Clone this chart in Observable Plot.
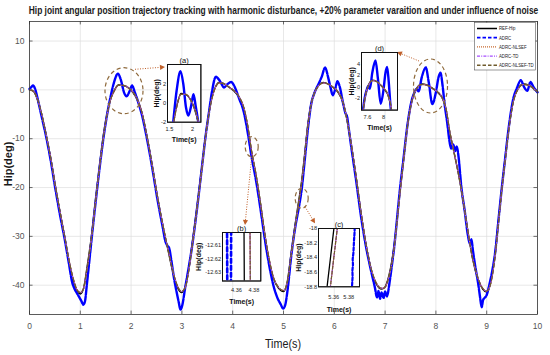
<!DOCTYPE html>
<html><head><meta charset="utf-8">
<script src="https://cdn.jsdelivr.net/npm/d3@7"></script>
<script src="https://cdn.jsdelivr.net/npm/@observablehq/plot@0.6"></script>
<style>
html,body{margin:0;padding:0;background:#fff;}
#wrap{position:relative;width:550px;height:355px;overflow:hidden;background:#fff;}
</style></head><body><div id="wrap"></div>
<script>
// ---------------- DATA ----------------
const titleText = "Hip joint angular position trajectory tracking with harmonic disturbance, +20% parameter varaition and under influence of noise";
const xTicks = [0,1,2,3,4,5,6,7,8,9,10];
const yTicks = [-40,-30,-20,-10,0,10];
const legendLabels = ["REF-Hip","ADRC","ADRC-NLSEF","ADRC-TD","ADRC-NLSEF-TD"];

const refT = [0,0.08,0.15,0.22,0.33,0.42,0.51,0.60,0.69,0.78, 0.87,0.94,1.00,1.06,1.13,1.23,1.31,1.39,1.47,1.54,
  1.60,1.67,1.75,1.85,1.95,2.04,2.12,2.21,2.32,2.42, 2.52,2.62,2.72,2.85,2.93,2.99,3.06,3.13,3.19,3.29,
  3.39,3.47,3.53,3.60,3.66,3.73,3.82,3.92,4.02,4.12, 4.22,4.30,4.37,4.46,4.55,4.63,4.72,4.80,4.90,5.00,
  5.07,5.15,5.23,5.31,5.36,5.41,5.48,5.54,5.61,5.68, 5.78,5.88,5.98,6.08,6.17,6.25,6.33,6.43,6.53,6.62,
  6.72,6.82,6.92,6.98,7.05,7.17,7.30,7.37,7.43,7.53, 7.62,7.72,7.82,7.92,8.02,8.12,8.20,8.27,8.35,8.43,
  8.50,8.57,8.63,8.72,8.83,8.92,9.00,9.07,9.17,9.23, 9.30,9.37,9.43,9.53,9.62,9.72,9.82,9.92,10.0];
const refV = [0.0,-0.3,-1.8,-4.2,-9.4,-14.2,-19.8,-25.0,-30.0,-35.2, -39.3,-41.2,-41.8,-40.8,-36.5,-29.0,-21.5,-14.5,-8.2,-4.2,
  -1.8,-0.1,1.0,0.9,0.4,-0.6,-2.0,-4.6,-10.0,-15.8, -22.0,-27.5,-32.5,-38.5,-40.8,-41.5,-40.5,-37.0,-32.5,-24.5,
  -16.0,-9.0,-4.8,-1.2,0.6,1.5,1.3,0.6,-0.2,-1.4, -3.8,-7.8,-12.6,-17.5,-23.5,-29.5,-35.0,-38.5,-40.6,-41.3,
  -39.5,-33.5,-27.5,-22.0,-18.4,-13.8,-7.0,-3.0,-0.5,0.8, 1.5,1.2,0.5,-0.6,-2.6,-6.2,-11.0,-18.0,-25.5,-31.5,
  -36.6,-39.6,-40.8,-40.6,-39.0,-32.5,-20.0,-13.5,-8.0,-2.0, 0.3,1.2,1.0,0.4,-0.4,-1.6,-4.0,-8.5,-12.5,-16.5,
  -20.5,-25.0,-29.0,-34.5,-38.8,-40.8,-41.4,-39.8,-33.2,-27.0, -19.8,-13.5,-8.2,-2.0,0.3,1.2,1.0,0.3,-0.5];
// improved controllers (ADRC-NLSEF, ADRC-TD, ADRC-NLSEF-TD) track the reference closely; sampled on refT
const improvedV = [0.0,-0.3,-1.7,-4.1,-9.3,-14.1,-19.7,-24.9,-29.9,-35.0, -39.0,-41.0,-41.5,-40.8,-36.8,-29.4,-21.9,-14.9,-8.5,-4.4,
  -1.9,-0.2,0.9,0.9,0.4,-0.5,-1.9,-4.5,-9.9,-15.7, -21.9,-27.4,-32.3,-38.2,-40.5,-41.3,-40.6,-37.3,-32.9,-24.9,
  -16.4,-9.3,-5.0,-1.4,0.5,1.4,1.3,0.6,-0.1,-1.3, -3.7,-7.6,-12.4,-17.4,-23.4,-29.3,-34.8,-38.3,-40.4,-41.1,
  -39.7,-33.8,-27.9,-22.4,-18.8,-14.2,-7.3,-3.2,-0.6,0.7, 1.4,1.2,0.5,-0.5,-2.5,-6.1,-10.9,-17.8,-25.3,-31.3,
  -36.4,-39.4,-40.6,-40.6,-39.2,-32.9,-20.4,-13.9,-8.3,-2.2, 0.2,1.1,1.0,0.4,-0.3,-1.5,-3.9,-8.4,-12.4,-16.4,
  -20.4,-24.9,-28.9,-34.3,-38.6,-40.6,-41.2,-40.0,-33.6,-27.4, -20.2,-13.9,-8.5,-2.2,0.2,1.1,1.0,0.3,-0.4];

const adrcT = [0.00,0.04,0.07,0.11,0.16,0.22,0.33,0.42,0.51,0.60, 0.69,0.78,0.84,0.88,0.92,0.97,1.02,1.06,1.09,1.13,
  1.18,1.23,1.31,1.39,1.47,1.53,1.58,1.66,1.74,1.80, 1.86,1.91,1.97,2.02,2.07,2.13,2.21,2.32,2.42,2.52,
  2.62,2.68,2.72,2.75,2.79,2.85,2.90,2.94,2.97,3.01, 3.06,3.13,3.19,3.29,3.39,3.47,3.53,3.59,3.67,3.75,
  3.83,3.90,3.97,4.04,4.12,4.22,4.30,4.37,4.46,4.55, 4.63,4.72,4.80,4.88,4.95,4.99,5.03,5.08,5.15,5.23,
  5.31,5.36,5.41,5.48,5.54,5.61,5.68,5.75,5.82,5.88, 5.93,5.97,6.02,6.06,6.11,6.17,6.22,6.25,6.28,6.33,
  6.43,6.53,6.62,6.72,6.80,6.84,6.87,6.90,6.93,6.97, 7.00,7.04,7.08,7.13,7.17,7.30,7.37,7.43,7.53,7.58,
  7.62,7.66,7.72,7.80,7.86,7.93,8.00,8.05,8.09,8.13, 8.17,8.22,8.27,8.30,8.34,8.38,8.41,8.44,8.50,8.57,
  8.63,8.67,8.70,8.73,8.78,8.83,8.87,8.90,8.93,8.96, 9.00,9.05,9.10,9.17,9.23,9.30,9.37,9.43,9.53,9.60,
  9.67,9.74,9.80,9.86,9.92,10.0];
const adrcV = [0.2,0.6,0.9,0.2,-1.8,-4.6,-9.7,-14.6,-20.3,-25.6, -30.4,-35.8,-39.4,-40.6,-41.4,-42.3,-43.2,-44.0,-43.4,-39.8,
  -34.8,-29.8,-22.2,-15.1,-8.8,-4.9,-2.2,1.4,3.3,2.0, -0.5,-1.3,-0.3,0.9,-0.4,-2.2,-5.0,-10.4,-16.2,-22.5,
  -28.0,-31.2,-32.0,-32.4,-34.8,-38.9,-41.6,-43.6,-45.0,-44.0, -40.8,-36.6,-32.8,-25.0,-16.2,-9.2,-4.8,-0.5,2.7,1.8,
  0.5,1.2,1.6,0.6,-1.6,-4.6,-9.0,-13.6,-18.6,-24.6, -30.4,-36.0,-40.0,-42.6,-44.0,-44.8,-44.2,-41.0,-34.2,-28.2,
  -23.6,-20.2,-15.2,-8.0,-3.2,-0.6,1.0,2.6,4.6,2.5, 0.3,-1.1,0.2,1.8,0.5,-2.6,-4.8,-5.4,-7.6,-11.4,
  -18.6,-26.2,-31.9,-36.9,-40.5,-42.5,-41.2,-42.8,-41.5,-42.6, -41.3,-42.3,-40.0,-36.2,-33.0,-19.6,-13.4,-8.0,-1.9,-0.5,
  0.2,-0.3,2.5,4.6,1.5,-2.9,-0.5,2.5,3.5,1.0, -2.8,-6.5,-10.7,-12.0,-11.2,-12.5,-11.6,-13.2,-19.8,-25.0,
  -29.8,-31.6,-30.6,-33.0,-36.5,-39.5,-42.5,-44.5,-43.0,-42.6, -42.0,-40.0,-37.6,-33.0,-26.8,-19.8,-13.4,-8.0,-1.5,0.5,
  2.0,0.5,-0.2,1.6,0.6,-0.5];

// close-up samples for inset (b) around t = 4.37 s
const bRefT = [4.3687,4.3691], bRefV = [-12.595,-12.642];
const bImpT = [4.3756,4.3760], bImpV = [-12.595,-12.642];
const bAdrcT = [4.3492,4.3495,4.3516,4.3537,4.3540], bAdrcV = [-12.59,-12.645,-12.70,-12.645,-12.59];
// close-up samples for inset (c) around t = 5.36 s
const cRefT = [5.3507,5.3605], cRefV = [-18.83,-17.97];
const cImpT = [5.3551,5.3650], cImpV = [-18.83,-17.97];
const cAdrcT = [5.3841,5.3846,5.3851,5.3848,5.3856,5.3852,5.3861,5.3866,5.3870,5.3876,5.3880];
const cAdrcV = [-18.85,-18.74,-18.66,-18.58,-18.50,-18.42,-18.34,-18.25,-18.16,-18.07,-17.97];

// annotation anchors (data coordinates of the main chart)
const ellipseT = [1.87,4.384,5.368,7.904];
const ellipseV = [-0.27,-11.74,-22.31,0.69];
const arrowFrom = [[2.087,4.11],[4.384,-13.79],[5.433,-24.03],[7.677,5.81]];
const arrowTo = [[2.677,4.58],[4.252,-27.78],[5.630,-27.43],[7.244,7.65]];

// ---------------- STYLE ----------------
const FONT = '"Liberation Sans","Arial",sans-serif';
const C = {ref:"#000000", adrc:"#0000ff", nlsef:"#c8692f", td:"#a64dff", nlsefTd:"#6f5b2c", ellipse:"#8f6a3c", arrow:"#c0602a"};
const ellipseR = [[19,23],[6.5,10],[6.5,10],[17,27]];
const yDom = [-46,14], xDom = [0,10];

const wrap = document.getElementById("wrap");

function annotations(index, scales) {
  const {x, y} = scales;
  const g = d3.create("svg:g");
  ellipseT.forEach((t,i) => {
    g.append("ellipse").attr("cx", x(t)).attr("cy", y(ellipseV[i]))
      .attr("rx", ellipseR[i][0]).attr("ry", ellipseR[i][1])
      .attr("fill","none").attr("stroke",C.ellipse).attr("stroke-width",1.2).attr("stroke-dasharray","4,3");
  });
  arrowFrom.forEach((f,i) => {
    const x1 = x(f[0]), y1 = y(f[1]), x2 = x(arrowTo[i][0]), y2 = y(arrowTo[i][1]);
    const a = Math.atan2(y2-y1, x2-x1), L = 5, W = 2.6;
    const bx = x2 - L*Math.cos(a), by = y2 - L*Math.sin(a);
    g.append("line").attr("x1",x1).attr("y1",y1).attr("x2",bx).attr("y2",by)
      .attr("stroke",C.arrow).attr("stroke-width",1).attr("stroke-dasharray","1,1.5");
    g.append("path").attr("d",`M${x2},${y2}L${bx - W*Math.sin(a)},${by + W*Math.cos(a)}L${bx + W*Math.sin(a)},${by - W*Math.cos(a)}Z`)
      .attr("fill",C.arrow);
  });
  return g.node();
}

const main = Plot.plot({
  width: 550, height: 355, marginLeft: 29, marginRight: 13, marginTop: 21, marginBottom: 41,
  style: {fontFamily: FONT, fontSize: "8.5px", color: "#555", background: "transparent"},
  x: {domain: xDom, ticks: xTicks, tickFormat: d => String(d), tickSize: 0, tickPadding: 8, label: null},
  y: {domain: yDom, ticks: yTicks, tickFormat: d => String(d), tickSize: 0, tickPadding: 5, label: null},
  marks: [
    Plot.ruleX(xTicks, {stroke: "#dedede", strokeWidth: 0.7}),
    Plot.ruleY(yTicks, {stroke: "#dedede", strokeWidth: 0.7}),
    Plot.ruleX(xTicks, {y1: yDom[0], y2: yDom[0] + 0.7, stroke: "#333", strokeWidth: 0.7}),
    Plot.ruleX(xTicks, {y1: yDom[1], y2: yDom[1] - 0.7, stroke: "#333", strokeWidth: 0.7}),
    Plot.ruleY(yTicks, {x1: xDom[0], x2: xDom[0] + 0.07, stroke: "#333", strokeWidth: 0.7}),
    Plot.ruleY(yTicks, {x1: xDom[1], x2: xDom[1] - 0.07, stroke: "#333", strokeWidth: 0.7}),
    Plot.line(refT, {x: refT, y: refV, stroke: C.ref, strokeWidth: 1.4, curve: "monotone-x"}),
    Plot.line(adrcT, {x: adrcT, y: adrcV, stroke: C.adrc, strokeWidth: 2.4, strokeDasharray: "9,1.5", curve: "monotone-x"}),
    Plot.line(refT, {x: refT, y: improvedV, stroke: C.nlsef, strokeWidth: 1.2, strokeDasharray: "1,1.5", curve: "monotone-x"}),
    Plot.line(refT, {x: refT, y: improvedV, stroke: C.td, strokeWidth: 1.1, strokeDasharray: "4,1.5,1,1.5", curve: "monotone-x"}),
    Plot.line(refT, {x: refT, y: improvedV, stroke: C.nlsefTd, strokeWidth: 1.3, strokeDasharray: "4,2.5", curve: "monotone-x"}),
    Plot.frame({stroke: "#333", strokeWidth: 0.8}),
    annotations
  ]
});
main.style.position = "absolute"; main.style.left = "0px"; main.style.top = "0px";
wrap.appendChild(main);

function drawInset(cfg) {
  const mL = 36, mR = 8, mT = 16, mB = 32;
  const box = cfg.box;
  const lines = cfg.series.map(s => Plot.line(s.t, {x: s.t, y: s.v, stroke: s.stroke, strokeWidth: s.w,
    strokeDasharray: s.dash, curve: s.curve || "monotone-x", clip: true}));
  const svg = Plot.plot({
    width: box.w + mL + mR, height: box.h + mT + mB,
    marginLeft: mL, marginRight: mR, marginTop: mT, marginBottom: mB,
    style: {fontFamily: FONT, fontSize: "5.6px", color: "#1a1a1a", background: "transparent", overflow: "visible"},
    x: {domain: cfg.xDomain, ticks: cfg.xTicks, tickFormat: d => String(d), tickSize: 0, tickPadding: cfg.xPad, label: null},
    y: {domain: cfg.yDomain, ticks: cfg.yTicks, tickFormat: d => String(d), tickSize: 0, tickPadding: 1.5, label: null},
    marks: [
      Plot.frame({fill: "white", stroke: "#111"}),
      ...lines,
      Plot.frame({stroke: "#111", strokeWidth: 0.8}),
      Plot.text([cfg.title], {text: d => d, frameAnchor: "top", lineAnchor: "bottom", dy: -1.5, fontSize: 7.5, fill: "#111"}),
      Plot.text(["Hip(deg)"], {text: d => d, frameAnchor: "left", rotate: -90, textAnchor: "middle", lineAnchor: "middle",
        dx: cfg.yLabDx, fontSize: 7, fontWeight: "bold", fill: "#111"}),
      Plot.text(["Time(s)"], {text: d => d, frameAnchor: "bottom", textAnchor: "middle", lineAnchor: "middle",
        dy: cfg.xLabDy, fontSize: 7, fontWeight: "bold", fill: "#111"})
    ]
  });
  svg.style.position = "absolute";
  svg.style.left = (box.x - mL) + "px";
  svg.style.top = (box.y - mT) + "px";
  wrap.appendChild(svg);
}

const mainSeries = [
  {t: refT, v: refV, stroke: C.ref, w: 1.3},
  {t: adrcT, v: adrcV, stroke: C.adrc, w: 2.4},
  {t: refT, v: improvedV, stroke: C.nlsef, w: 1.2, dash: "1,1.5"},
  {t: refT, v: improvedV, stroke: C.td, w: 1.1, dash: "4,1.5,1,1.5"},
  {t: refT, v: improvedV, stroke: C.nlsefTd, w: 1.3, dash: "4,2.5"}
];

drawInset({title: "(a)", box: {x: 167.3, y: 64, w: 33.4, h: 57.7}, xDomain: [1.46, 2.18], yDomain: [-2, 4],
  xTicks: [1.5, 2], yTicks: [-2, 0, 2], xPad: 5, yLabDx: -11, xLabDy: 18, series: mainSeries});
drawInset({title: "(d)", box: {x: 361, y: 51.7, w: 36, h: 57.6}, xDomain: [7.45, 8.35], yDomain: [-4, 6],
  xTicks: [7.6, 8], yTicks: [-2, 0, 2, 4], xPad: 5, yLabDx: -10, xLabDy: 18, series: mainSeries});
drawInset({title: "(b)", box: {x: 221.7, y: 231.7, w: 38.3, h: 48.5}, xDomain: [4.344, 4.388], yDomain: [-12.637, -12.6],
  xTicks: [4.36, 4.38], yTicks: [-12.61, -12.62, -12.63], xPad: 7, yLabDx: -24, xLabDy: 21, series: [
    {t: bRefT, v: bRefV, stroke: C.ref, w: 1.3, curve: "linear"},
    {t: bAdrcT, v: bAdrcV, stroke: C.adrc, w: 2.6, dash: "4,3", curve: "linear"},
    {t: bImpT, v: bImpV, stroke: C.nlsef, w: 1.2, dash: "1,1.5", curve: "linear"},
    {t: bImpT, v: bImpV, stroke: C.td, w: 1.1, dash: "4,1.5,1,1.5", curve: "linear"},
    {t: bImpT, v: bImpV, stroke: C.nlsefTd, w: 1.2, dash: "3,2", curve: "linear"}
  ]});
drawInset({title: "(c)", box: {x: 318, y: 228.4, w: 41, h: 58.3}, xDomain: [5.3396, 5.3943], yDomain: [-18.8, -18],
  xTicks: [5.36, 5.38], yTicks: [-18, -18.2, -18.4, -18.6, -18.8], xPad: 8, yLabDx: -20, xLabDy: 23, series: [
    {t: cRefT, v: cRefV, stroke: C.ref, w: 1.3, curve: "linear"},
    {t: cAdrcT, v: cAdrcV, stroke: C.adrc, w: 2.2, dash: "3,2", curve: "linear"},
    {t: cImpT, v: cImpV, stroke: C.nlsef, w: 1.2, dash: "1,1.5", curve: "linear"},
    {t: cImpT, v: cImpV, stroke: C.td, w: 1.1, dash: "4,1.5,1,1.5", curve: "linear"},
    {t: cImpT, v: cImpV, stroke: C.nlsefTd, w: 1.2, dash: "3,2", curve: "linear"}
  ]});

// ---------------- OVERLAY: title, axis labels, legend ----------------
const ov = d3.create("svg").attr("width", 550).attr("height", 355)
  .style("position","absolute").style("left","0px").style("top","0px")
  .style("font-family", FONT);
wrap.appendChild(ov.node());   // attach first so text can be measured

// title: condensed by horizontal scaling to the reference's narrow face
const tt = ov.append("text").attr("text-anchor","middle")
  .attr("font-size", 11).attr("font-weight","bold").attr("fill","#1a1a1a").text(titleText);
const natural = tt.node().getComputedTextLength() || 700;
const sx = Math.min(1, 510 / natural);
tt.attr("transform", `translate(283.5,14) scale(${sx},1)`);

ov.append("text").attr("transform","translate(12,164) rotate(-90)").attr("text-anchor","middle")
  .attr("font-size", 11).attr("font-weight","bold").attr("fill","#1a1a1a").text("Hip(deg)");
ov.append("text").attr("transform","translate(283,348) scale(0.9,1)").attr("text-anchor","middle")
  .attr("font-size", 12).attr("fill","#1a1a1a").text("Time(s)");

const lg = ov.append("g");
lg.append("rect").attr("x", 474.5).attr("y", 22.5).attr("width", 61).attr("height", 47.5)
  .attr("fill","#fff").attr("stroke","#555").attr("stroke-width",0.6);
const lgStyle = [
  {stroke: C.ref, w: 1.5, dash: null},
  {stroke: C.adrc, w: 1.8, dash: "3.5,2"},
  {stroke: C.nlsef, w: 1.2, dash: "1,1"},
  {stroke: C.td, w: 1.2, dash: "3,1.2,1,1.2"},
  {stroke: C.nlsefTd, w: 1.5, dash: "3.5,2"}
];
legendLabels.forEach((lab, i) => {
  const yy = 28.5 + i * 9.2;
  lg.append("line").attr("x1", 477).attr("x2", 497).attr("y1", yy).attr("y2", yy)
    .attr("stroke", lgStyle[i].stroke).attr("stroke-width", lgStyle[i].w)
    .attr("stroke-dasharray", lgStyle[i].dash);
  lg.append("text").attr("transform", `translate(499,${yy}) scale(0.8,1)`).attr("dy","0.35em")
    .attr("font-size", 5.4).attr("fill","#222").text(lab);
});
</script>
</body></html>
